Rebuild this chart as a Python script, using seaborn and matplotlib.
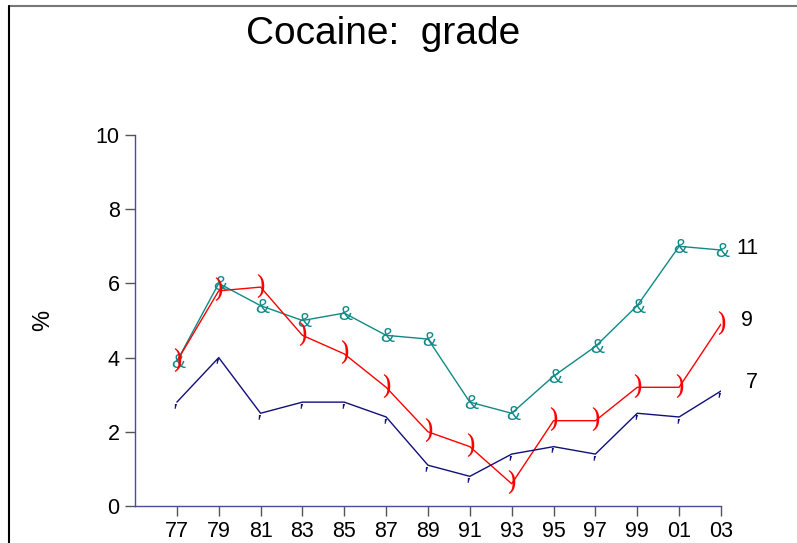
import pandas as pd
import matplotlib.pyplot as plt
import matplotlib.transforms as mtransforms
from matplotlib.lines import Line2D
import seaborn as sns

# data
years = [1977, 1979, 1981, 1983, 1985, 1987, 1989, 1991, 1993, 1995, 1997, 1999, 2001, 2003]
year_labels = ['77', '79', '81', '83', '85', '87', '89', '91', '93', '95', '97', '99', '01', '03']
grade_11 = [3.9, 6.0, 5.4, 5.0, 5.2, 4.6, 4.5, 2.8, 2.5, 3.5, 4.3, 5.4, 7.0, 6.9]
grade_9 = [3.9, 5.8, 5.9, 4.6, 4.1, 3.2, 2.0, 1.6, 0.6, 2.3, 2.3, 3.2, 3.2, 4.9]
grade_7 = [2.8, 4.0, 2.5, 2.8, 2.8, 2.4, 1.1, 0.8, 1.4, 1.6, 1.4, 2.5, 2.4, 3.1]

grades = ['11', '9', '7']
colors = {'11': '#0f8a87', '9': '#ff0000', '7': '#10107a'}
glyphs = {'11': '&', '9': ')', '7': "'"}

df = pd.DataFrame({
    'year': years * 3,
    'pct': grade_11 + grade_9 + grade_7,
    'grade': ['11'] * 14 + ['9'] * 14 + ['7'] * 14,
})

sns.set_style('white')
plt.rcParams['font.family'] = ['Liberation Sans', 'DejaVu Sans']
plt.rcParams['text.color'] = 'black'
plt.rcParams['xtick.labelcolor'] = 'black'
plt.rcParams['ytick.labelcolor'] = 'black'
plt.rcParams['axes.labelcolor'] = 'black'

fig = plt.figure(figsize=(7.97, 5.43), dpi=100)
ax = fig.add_axes([0.1694, 0.0681, 0.9046 - 0.1694, 0.7514 - 0.0681])

sns.lineplot(data=df, x='year', y='pct', hue='grade', palette=colors,
             linewidth=1, legend=False, ax=ax)

# text-glyph markers like the original plot
marker_style = {
    '11': dict(dx=1, dy=-1, size=15, family='Liberation Sans'),
    '9': dict(dx=0, dy=0, size=19, family='DejaVu Serif'),
    '7': dict(dx=-2, dy=-8, size=16, family='Liberation Serif'),
}
label_offset = {'11': (19, 1), '9': (19, 3), '7': (22, 6)}
for g in grades:
    sub = df[df['grade'] == g]
    st = marker_style[g]
    trans = mtransforms.offset_copy(ax.transData, fig=fig, x=st['dx'], y=st['dy'], units='points')
    for x, y in zip(sub['year'], sub['pct']):
        ax.text(x, y, glyphs[g], color=colors[g], fontsize=st['size'],
                ha='center', va='center', transform=trans,
                fontfamily=st['family'], fontstyle='italic' if g == '7' else 'normal')
    # grade label at the end of each line
    ox, oy = label_offset[g]
    lab = mtransforms.offset_copy(ax.transData, fig=fig, x=ox, y=oy, units='points')
    ax.text(sub['year'].iloc[-1], sub['pct'].iloc[-1], g, fontsize=15.5,
            ha='center', va='center', transform=lab)

ax.set_xlim(1975, 2003)
ax.set_ylim(0, 10)
ax.set_xticks(years)
ax.set_xticklabels(year_labels)
ax.set_yticks([0, 2, 4, 6, 8, 10])
ax.tick_params(axis='both', direction='out', length=7, width=1, color='#555555',
               labelsize=15.5, pad=4, bottom=True, left=True)
ax.set_xlabel('')
ax.set_ylabel('%', fontsize=17, labelpad=30)

sns.despine(ax=ax)
for s in ['left', 'bottom']:
    ax.spines[s].set_color('#4a4aa0')
    ax.spines[s].set_linewidth(1)

fig.suptitle('Cocaine:  grade', x=0.481, y=0.97, fontsize=28,
             fontfamily=['Liberation Sans Narrow', 'Liberation Sans'])

# outer frame lines
fig.add_artist(Line2D([9 / 797, 1], [1 - 6 / 543, 1 - 6 / 543], color='#777777', lw=1.5))
fig.add_artist(Line2D([9 / 797, 9 / 797], [0, 1 - 6 / 543], color='black', lw=1.5))

fig.savefig('out.png', dpi=100)
